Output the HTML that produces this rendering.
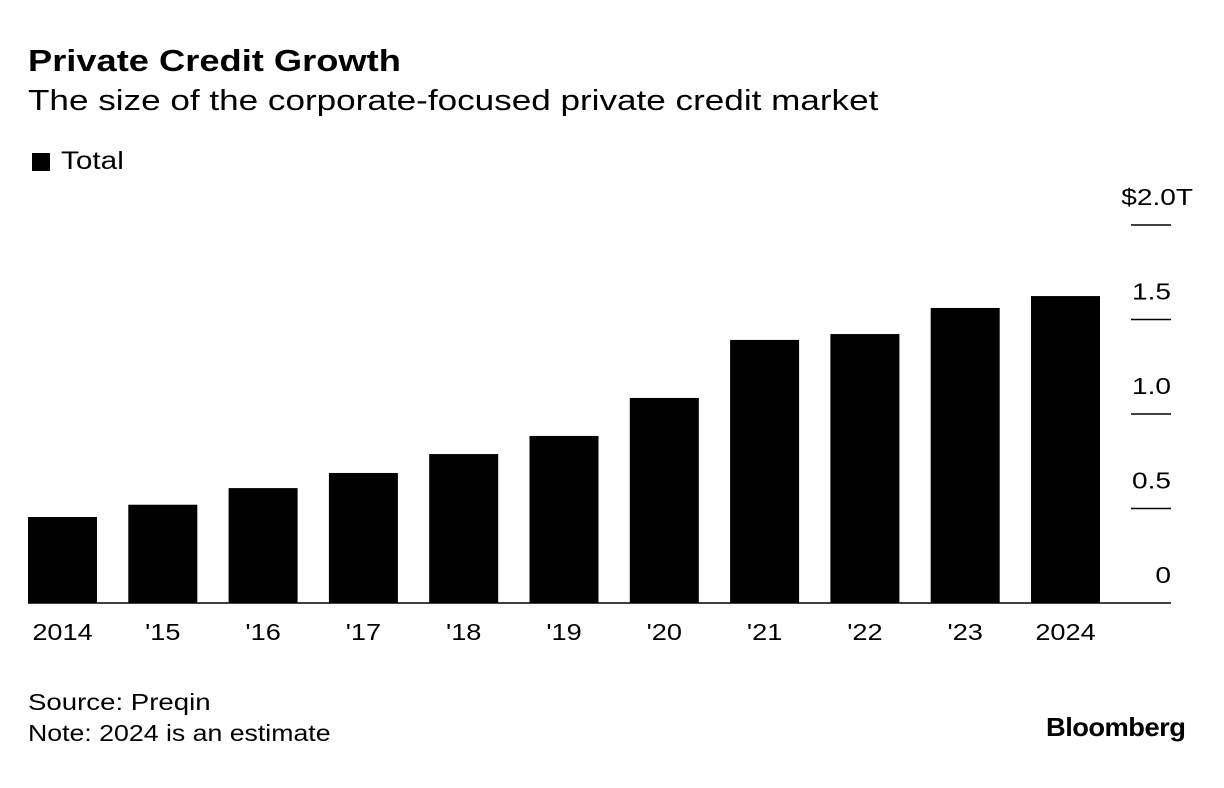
<!DOCTYPE html>
<html><head><meta charset="utf-8"><style>
body{margin:0;background:#fff;width:1224px;height:788px;overflow:hidden;font-family:"Liberation Sans",sans-serif;color:#000}
.t{position:absolute;white-space:nowrap;transform-origin:0 0}
</style></head><body>
<div class="t" style="left:28px;top:43px;font-size:31px;font-weight:bold;transform:scaleX(1.17)">Private Credit Growth</div>
<div class="t" style="left:28px;top:85px;font-size:29px;transform:scaleX(1.21)">The size of the corporate-focused private credit market</div>
<div style="position:absolute;left:32px;top:153px;width:18px;height:18px;background:#000"></div>
<div class="t" style="left:61px;top:147px;font-size:25px;transform:scaleX(1.19)">Total</div>
<svg id="c" width="1224" height="788" style="position:absolute;left:0;top:0"></svg>
<div class="t" style="left:28px;top:689px;font-size:23px;transform:scaleX(1.2)">Source: Preqin</div>
<div class="t" style="left:28px;top:720px;font-size:23px;transform:scaleX(1.16)">Note: 2024 is an estimate</div>
<div class="t" style="left:1046px;top:712px;font-size:26px;font-weight:bold;letter-spacing:-0.5px;transform:scaleX(1.05)">Bloomberg</div>
<script>
const categories=["2014","'15","'16","'17","'18","'19","'20","'21","'22","'23","2024"];
const values=[0.455,0.52,0.608,0.688,0.788,0.884,1.085,1.392,1.423,1.561,1.624];
const ticks=[0,0.5,1.0,1.5,2.0];
const tickLabels=["0","0.5","1.0","1.5","$2.0T"];
const NS="http://www.w3.org/2000/svg";
const svg=document.getElementById('c');
const y0=603,pxPer=189;
const y=v=>y0-v*pxPer;
const x=i=>28+i*100.3;
const bw=69;
function mk(t,a){const e=document.createElementNS(NS,t);for(const k in a)e.setAttribute(k,a[k]);svg.appendChild(e);return e;}
values.forEach((v,i)=>{
 const r=mk('rect',{x:x(i),y:y(v),width:bw,height:y0-y(v),fill:'#000'});
 
 
 const t=mk('text',{x:0,y:0,transform:`translate(${x(i)+bw/2},640) scale(1.18,1)`,'text-anchor':'middle','font-size':23,'font-family':'Liberation Sans, sans-serif'});
 t.textContent=categories[i];
 
 
});
ticks.forEach((v,i)=>{
 if(v>0){const l=mk('line',{x1:1131,x2:1171,y1:y(v),y2:y(v),stroke:'#000','stroke-width':1.5});
 
 }
 const t=mk('text',{x:0,y:0,transform:`translate(${i==4?1193:1171},${y(v)-20}) scale(1.22,1)`,'text-anchor':'end','font-size':23,'font-family':'Liberation Sans, sans-serif'});
 t.textContent=tickLabels[i];
 
 
});
const ax=mk('line',{x1:28,x2:1171,y1:y0,y2:y0,stroke:'#000','stroke-width':1.5});


</script>
</body></html>
